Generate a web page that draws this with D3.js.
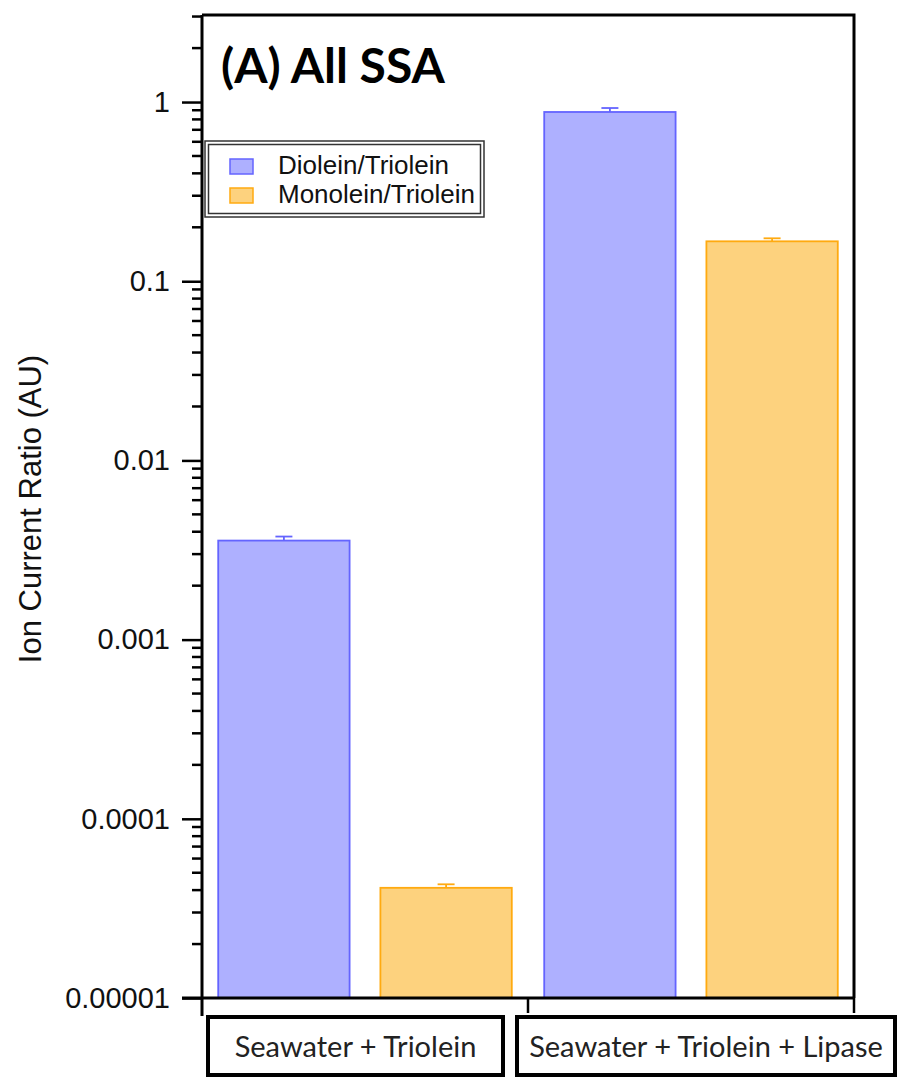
<!DOCTYPE html>
<html>
<head>
<meta charset="utf-8">
<script src="https://cdn.jsdelivr.net/npm/d3@7"></script>
<style>
  body { margin: 0; background: #fff; }
  svg { display: block; }
</style>
</head>
<body>
<div id="chart"></div>
<script>
// data
const categories = ["Seawater + Triolein", "Seawater + Triolein + Lipase"];
const seriesNames = ["Diolein/Triolein", "Monolein/Triolein"];
const diolein = [0.00357, 0.88];
const monolein = [0.0000412, 0.167];
const dioleinErr = [0.00019, 0.046];
const monoleinErr = [0.0000019, 0.0066];
const tickValues = [1, 0.1, 0.01, 0.001, 0.0001, 0.00001];
const tickLabels = ["1", "0.1", "0.01", "0.001", "0.0001", "0.00001"];

const fills = ["#aeb0ff", "#fdd27e"];
const strokes = ["#6464ff", "#ffaa10"];

const W = 899, H = 1078;
const margin = {top: 15, right: 45, bottom: 80, left: 202};
const innerW = W - margin.left - margin.right;
const innerH = H - margin.top - margin.bottom;

const svg = d3.select("#chart").append("svg")
  .attr("width", W)
  .attr("height", H);

const g = svg.append("g")
  .attr("transform", "translate(" + margin.left + "," + margin.top + ")");

const x0 = d3.scaleBand()
  .domain(categories)
  .range([0, innerW])
  .padding(0);

const x1 = d3.scaleBand()
  .domain(seriesNames)
  .range([0, x0.bandwidth()])
  .paddingInner(0.19)
  .paddingOuter(0.1);

const y = d3.scaleLog()
  .domain([0.00001, 3.06])
  .range([innerH, 0]);

const rows = [];
categories.forEach((c, i) => {
  rows.push({cat: c, s: 0, v: diolein[i], e: dioleinErr[i]});
  rows.push({cat: c, s: 1, v: monolein[i], e: monoleinErr[i]});
});

// bars
g.selectAll(".bar")
  .data(rows)
  .enter().append("rect")
    .attr("class", "bar")
    .attr("x", d => x0(d.cat) + x1(seriesNames[d.s]))
    .attr("y", d => y(d.v))
    .attr("width", x1.bandwidth())
    .attr("height", d => innerH - y(d.v))
    .style("fill", d => fills[d.s])
    .style("stroke", d => strokes[d.s])
    .style("stroke-width", 1.8);

// error bars (upper half only, lower half is hidden in the bar)
const capW = 17;
const eb = g.selectAll(".err")
  .data(rows)
  .enter().append("g")
    .attr("class", "err")
    .style("stroke", d => strokes[d.s])
    .style("stroke-width", 1.8);
eb.append("line")
  .attr("x1", d => x0(d.cat) + x1(seriesNames[d.s]) + x1.bandwidth() / 2)
  .attr("x2", d => x0(d.cat) + x1(seriesNames[d.s]) + x1.bandwidth() / 2)
  .attr("y1", d => y(d.v))
  .attr("y2", d => y(d.v + d.e));
eb.append("line")
  .attr("x1", d => x0(d.cat) + x1(seriesNames[d.s]) + x1.bandwidth() / 2 - capW / 2)
  .attr("x2", d => x0(d.cat) + x1(seriesNames[d.s]) + x1.bandwidth() / 2 + capW / 2)
  .attr("y1", d => y(d.v + d.e))
  .attr("y2", d => y(d.v + d.e));

// frame: top and right lines
g.append("path")
  .attr("d", "M0,0H" + innerW + "V" + innerH)
  .style("fill", "none")
  .style("stroke", "#000")
  .style("stroke-width", 3);

// y axis, major ticks
const yAxis = g.append("g")
  .attr("class", "axis axis--y")
  .call(d3.axisLeft(y)
    .tickValues(tickValues)
    .tickFormat((d, i) => tickLabels[i])
    .tickSize(20)
    .tickPadding(12)
    .tickSizeOuter(0));
yAxis.select(".domain").remove();
yAxis.selectAll(".tick line").style("stroke", "#000").style("stroke-width", 2.5);
yAxis.selectAll(".tick text")
  .style("font-family", "Liberation Sans, Arial, sans-serif")
  .style("font-size", "29px")
  .style("fill", "#111");

// minor ticks
const minors = [];
for (let e = -5; e <= 0; e++) {
  for (let m = 2; m <= 9; m++) {
    const v = m * Math.pow(10, e);
    if (v <= y.domain()[1]) minors.push(v);
  }
}
g.append("g")
  .selectAll("line")
  .data(minors)
  .enter().append("line")
    .attr("x1", -10)
    .attr("x2", 0)
    .attr("y1", d => y(d))
    .attr("y2", d => y(d))
    .style("stroke", "#000")
    .style("stroke-width", 2.5);

// left axis line (extends slightly below the bottom)
g.append("line")
  .attr("x1", 0).attr("x2", 0)
  .attr("y1", 0).attr("y2", innerH + 18)
  .style("stroke", "#000")
  .style("stroke-width", 3);

// bottom axis
g.append("line")
  .attr("x1", -20).attr("x2", innerW)
  .attr("y1", innerH).attr("y2", innerH)
  .style("stroke", "#000")
  .style("stroke-width", 3);

g.selectAll(".cattick")
  .data(categories)
  .enter().append("line")
    .attr("class", "cattick")
    .attr("x1", d => x0(d) + x0.bandwidth())
    .attr("x2", d => x0(d) + x0.bandwidth())
    .attr("y1", innerH)
    .attr("y2", innerH + 15)
    .style("stroke", "#000")
    .style("stroke-width", 2.5);

// category label boxes
const boxes = [
  {x: 206, w: 299},
  {x: 515, w: 382}
];
const cat = svg.selectAll(".catbox")
  .data(categories)
  .enter().append("g")
    .attr("class", "catbox");
cat.append("rect")
  .attr("x", (d, i) => boxes[i].x + 2)
  .attr("y", 1017)
  .attr("width", (d, i) => boxes[i].w - 4)
  .attr("height", 58)
  .style("fill", "#fff")
  .style("stroke", "#000")
  .style("stroke-width", 4);
cat.append("text")
  .attr("x", (d, i) => boxes[i].x + boxes[i].w / 2)
  .attr("y", 1057)
  .attr("text-anchor", "middle")
  .style("font-family", "Lato, sans-serif")
  .style("font-size", "29px")
  .style("fill", "#222")
  .text(d => d);

// title
g.append("text")
  .attr("x", 19)
  .attr("y", 83 - margin.top)
  .style("font-family", "Lato, sans-serif")
  .style("font-weight", "bold")
  .style("font-size", "48px")
  .style("fill", "#000")
  .text("(A) All SSA");

// legend
const leg = svg.append("g").attr("transform", "translate(205,141)");
leg.append("rect")
  .attr("x", 0).attr("y", 0).attr("width", 279).attr("height", 76)
  .style("fill", "#fff").style("stroke", "#333").style("stroke-width", 1.5);
leg.append("rect")
  .attr("x", 3.5).attr("y", 3.5).attr("width", 272).attr("height", 69)
  .style("fill", "none").style("stroke", "#333").style("stroke-width", 1.5);
const li = leg.selectAll(".li")
  .data(seriesNames)
  .enter().append("g")
    .attr("class", "li")
    .attr("transform", (d, i) => "translate(0," + (i * 29) + ")");
li.append("rect")
  .attr("x", 25).attr("y", 18).attr("width", 23).attr("height", 15)
  .style("fill", (d, i) => fills[i])
  .style("stroke", (d, i) => strokes[i])
  .style("stroke-width", 1.5);
li.append("text")
  .attr("x", 73).attr("y", 33)
  .style("font-family", "Liberation Sans, Arial, sans-serif")
  .style("font-size", "26px")
  .style("fill", "#111")
  .text(d => d);

// y axis title
svg.append("text")
  .attr("transform", "translate(41,509) rotate(-90)")
  .attr("text-anchor", "middle")
  .style("font-family", "Liberation Sans, Arial, sans-serif")
  .style("font-size", "31px")
  .style("fill", "#111")
  .text("Ion Current Ratio (AU)");
</script>
</body>
</html>
